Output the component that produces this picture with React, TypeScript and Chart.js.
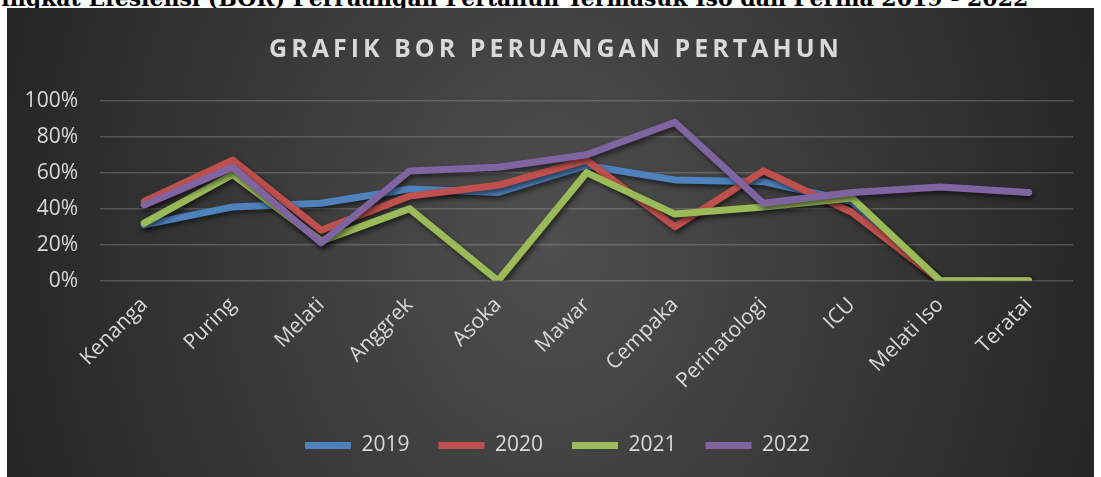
import React, { useEffect, useRef } from "react";
import { Chart, registerables } from "chart.js";

Chart.register(...registerables);

const categories = ["Kenanga", "Puring", "Melati", "Anggrek", "Asoka", "Mawar", "Cempaka", "Perinatologi", "ICU", "Melati Iso", "Teratai"];
const bor2019 = [31, 41, 43, 51, 49, 64, 56, 55, 44, 0, 0];
const bor2020 = [44, 67, 28, 47, 53, 67, 30, 61, 38, 0, 0];
const bor2021 = [32, 59, 22, 40, 0, 60, 37, 41, 46, 0, 0];
const bor2022 = [42, 63, 21, 61, 63, 70, 88, 43, 49, 52, 49];
const seriesLabels = ["2019", "2020", "2021", "2022"];
const seriesColors = ["#4F81BD", "#C0504D", "#9BBB59", "#8064A2"];
const yMin = 0;
const yMax = 100;
const yStep = 20;
const chartTitle = "GRAFIK BOR PERUANGAN PERTAHUN";
const pageHeading = "Tingkat Efesiensi (BOR) Perruangan Pertahun Termasuk Iso dan Perina 2019 - 2022";

const FONT = '"Open Sans", "Noto Sans", sans-serif';
const TEXT = "#d9d9d9";

const shadowPlugin = {
  id: "lineShadow",
  beforeDatasetDraw(chart: any) {
    const c = chart.ctx;
    c.save();
    c.shadowColor = "rgba(0,0,0,0.55)";
    c.shadowBlur = 5;
    c.shadowOffsetX = 2;
    c.shadowOffsetY = 3;
  },
  afterDatasetDraw(chart: any) {
    chart.ctx.restore();
  },
};

const legendShiftPlugin = {
  id: "legendShift",
  afterLayout(chart: any) {
    if (chart.legend) {
      chart.legend.left += 17.5;
      chart.legend.right += 17.5;
    }
  },
};

const titlePlugin = {
  id: "spacedTitle",
  afterDraw(chart: any) {
    const c = chart.ctx;
    c.save();
    c.font = `bold 25px ${FONT}`;
    c.fillStyle = TEXT;
    c.textAlign = "center";
    c.textBaseline = "middle";
    (c as any).letterSpacing = "4px";
    c.fillText(chartTitle, 549, 42);
    c.restore();
  },
};

export default function App() {
  const ref = useRef<HTMLCanvasElement | null>(null);

  useEffect(() => {
    if (!ref.current) return;
    const series = [bor2019, bor2020, bor2021, bor2022];
    const chart = new Chart(ref.current, {
      type: "line",
      data: {
        labels: categories,
        datasets: series.map((d, i) => ({
          label: seriesLabels[i],
          data: d,
          borderColor: seriesColors[i],
          backgroundColor: seriesColors[i],
          borderWidth: 7,
          borderCapStyle: "round",
          borderJoinStyle: "round",
          pointRadius: 0,
          pointHoverRadius: 0,
          tension: 0,
          fill: false,
          order: 3 - i,
        })),
      },
      plugins: [shadowPlugin, titlePlugin, legendShiftPlugin],
      options: {
        animation: false,
        responsive: false,
        devicePixelRatio: 1,
        layout: { padding: { top: 92.7, left: 0, right: 21, bottom: 11 } },
        plugins: {
          title: { display: false },
          tooltip: { enabled: false },
          legend: {
            position: "bottom",
            labels: {
              usePointStyle: true,
              pointStyle: "line",
              pointStyleWidth: 46,
              color: TEXT,
              font: { family: FONT, size: 21 },
              padding: 29,
              sort: (a: any, b: any) => a.datasetIndex - b.datasetIndex,
            },
          },
        },
        scales: {
          x: {
            offset: true,
            grid: { display: false },
            border: { display: false },
            ticks: {
              color: TEXT,
              font: { family: FONT, size: 21 },
              maxRotation: 45,
              minRotation: 45,
              autoSkip: false,
              padding: 4,
            },
            afterFit: (scale: any) => {
              scale.height = 125.3;
            },
          },
          y: {
            min: yMin,
            max: yMax,
            border: { display: false },
            grid: { color: "rgba(217,217,217,0.22)", lineWidth: 1.5, drawTicks: false },
            ticks: {
              stepSize: yStep,
              color: TEXT,
              font: { family: FONT, size: 21 },
              padding: 22,
              callback: (v: any) => `${v}%`,
            },
            afterFit: (scale: any) => {
              scale.width = 93;
            },
          },
        },
      } as any,
    });
    return () => chart.destroy();
  }, []);

  return (
    <div style={{ position: "absolute", left: 0, top: 0, width: 1101, height: 477, overflow: "hidden", background: "#ffffff" }}>
      <div
        style={{
          position: "absolute",
          left: -15,
          top: -13,
          whiteSpace: "nowrap",
          fontFamily: '"DejaVu Serif", serif',
          fontWeight: "bold",
          fontSize: 22,
          lineHeight: "22px",
          color: "#000",
        }}
      >
        {pageHeading}
      </div>
      <div
        style={{
          position: "absolute",
          left: 7,
          top: 8,
          width: 1087,
          height: 469,
          background: "radial-gradient(ellipse 560px 720px at 50% 50%, #4f4f4f 0%, #262626 100%)",
        }}
      >
        <canvas ref={ref} width={1087} height={469} style={{ display: "block" }} />
      </div>
    </div>
  );
}
